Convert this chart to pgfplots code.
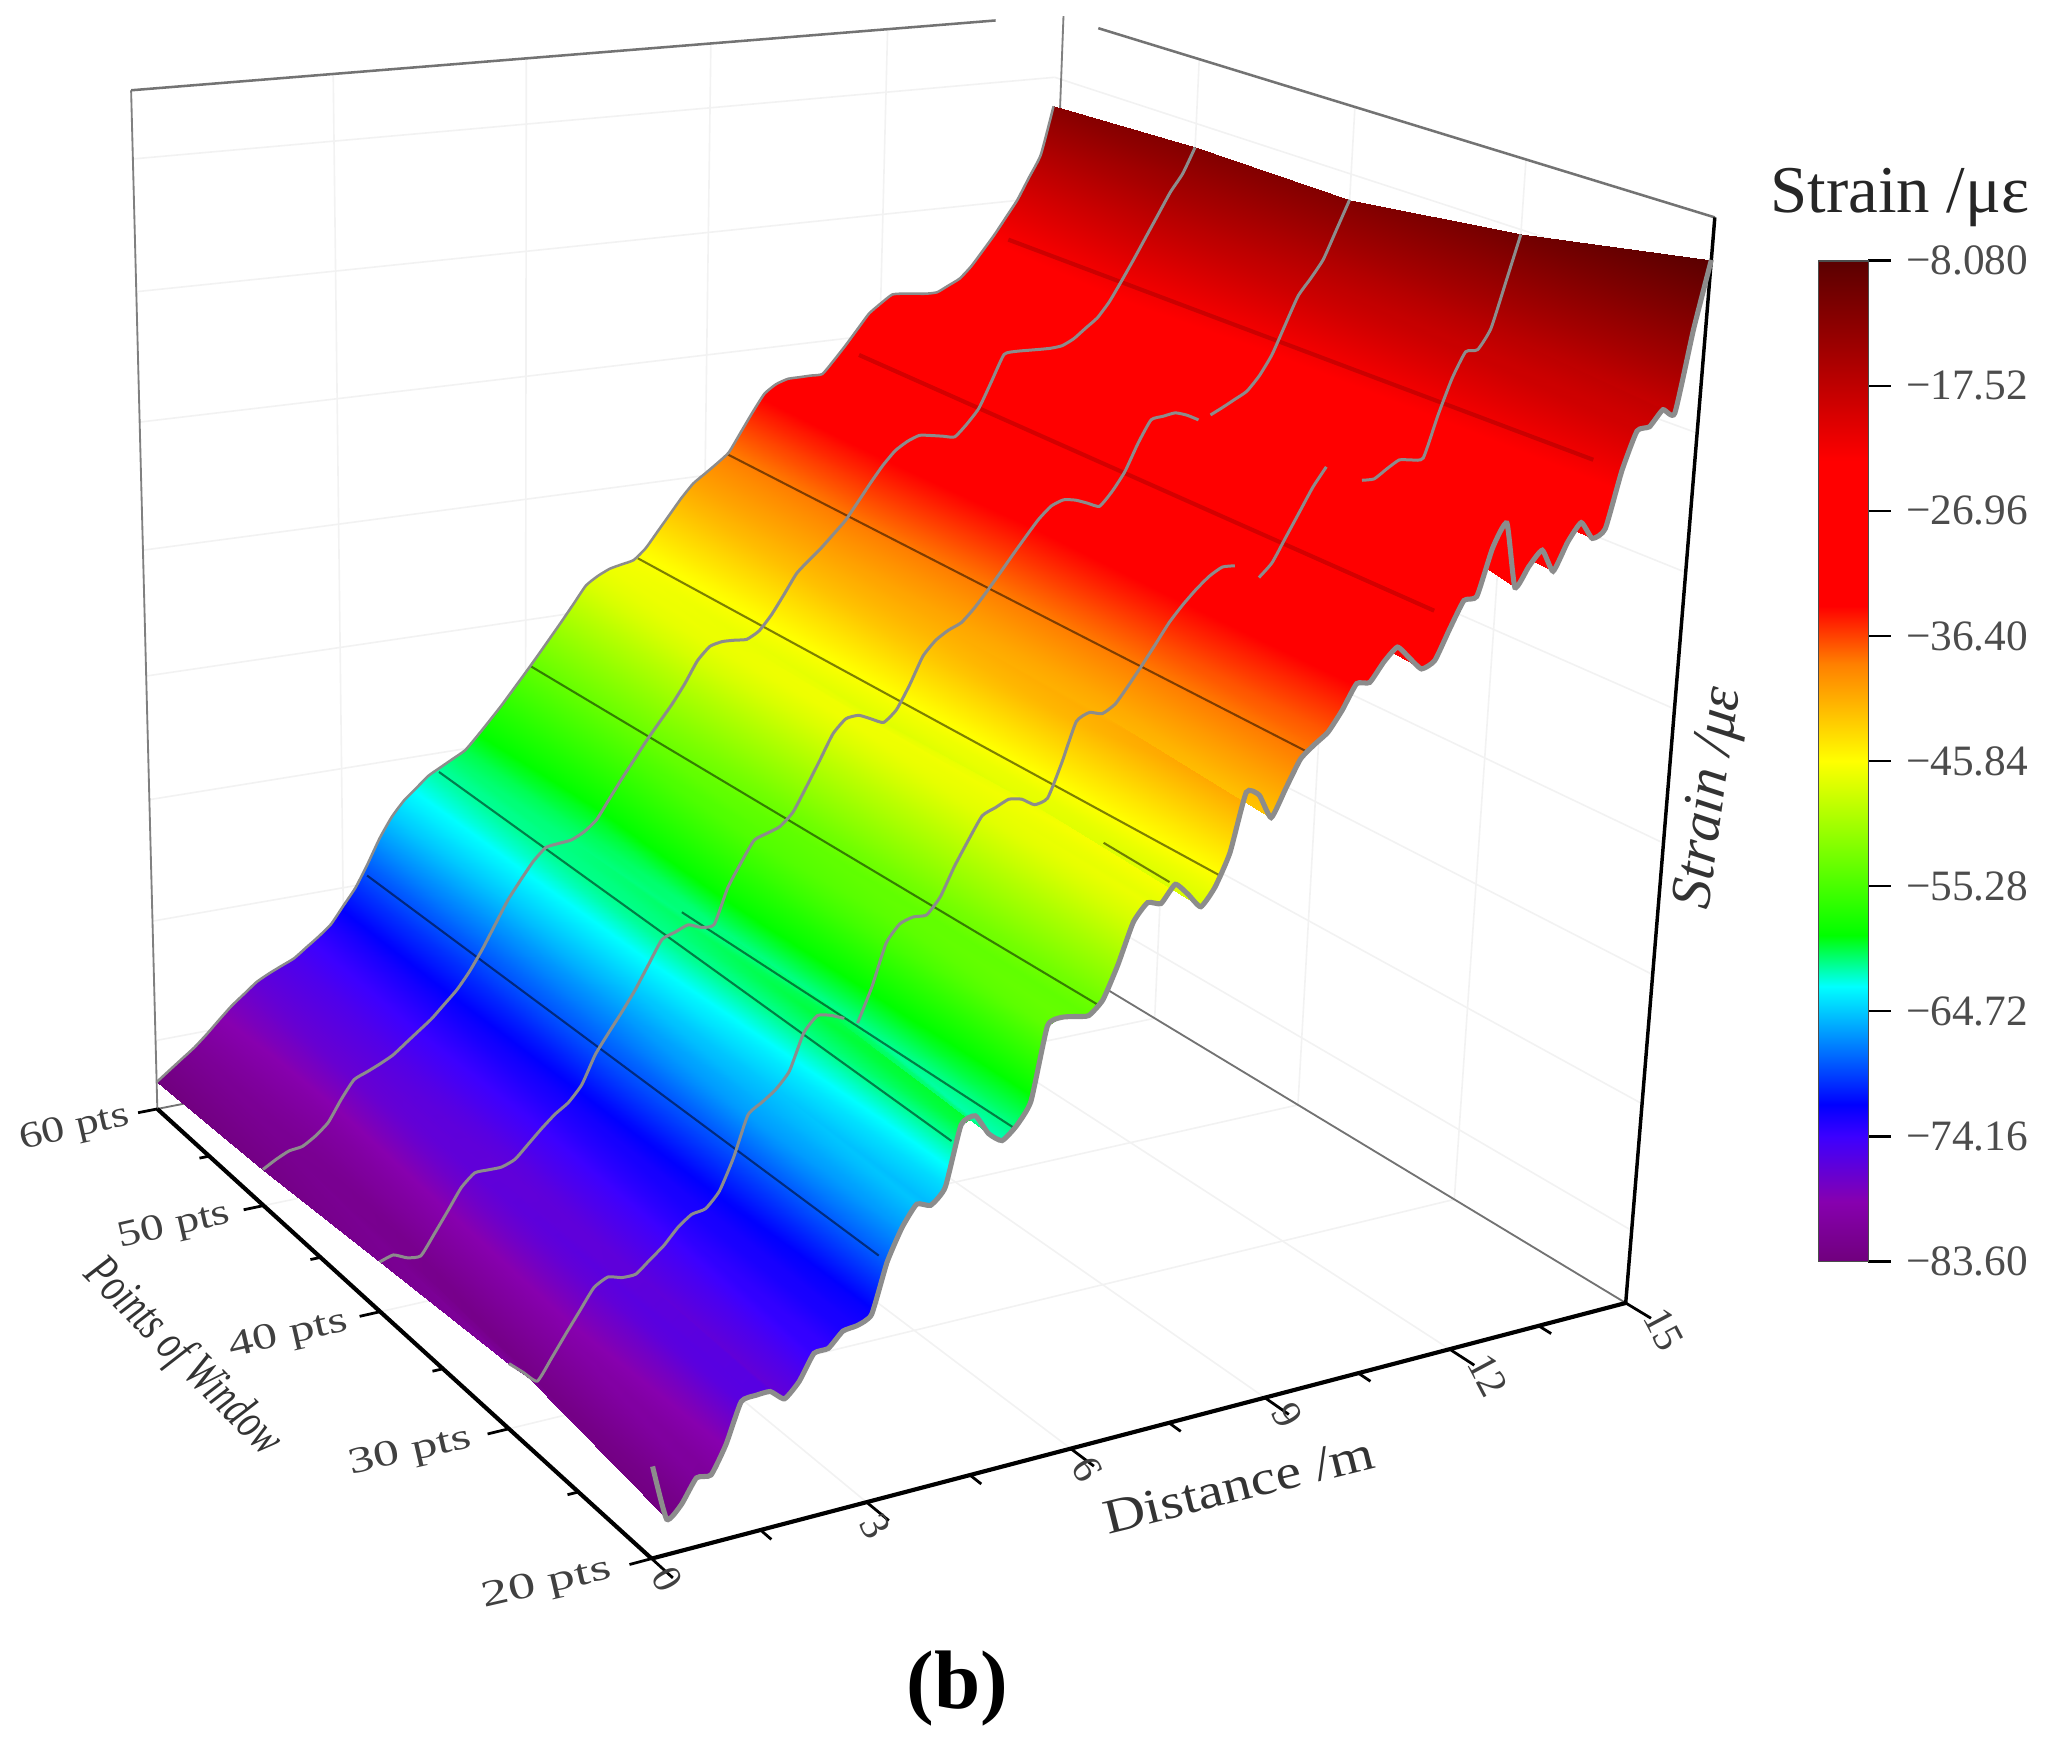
\documentclass[border=0pt]{standalone}
\usepackage{fontspec}
\setmainfont{Liberation Serif}
\usepackage{graphicx}
\usepackage{pgfplots}
\usepackage{pgfplotstable}
\pgfplotsset{compat=1.18}

% strain along the fibre, one column per window size
\pgfplotstableread{
d s20 s30 s40 s50 s60
0.0 -79.17 -80.89 -81.89 -82.85 -83.52
0.2 -83.24 -81.80 -81.58 -82.25 -82.74
0.4 -82.43 -82.72 -82.04 -81.77 -81.97
0.6 -80.79 -81.25 -82.12 -81.63 -81.20
0.8 -80.85 -79.68 -80.63 -81.00 -80.27
1.0 -78.91 -78.17 -79.06 -80.09 -79.25
1.2 -76.10 -76.67 -77.46 -78.44 -78.27
1.4 -75.91 -76.12 -76.53 -77.04 -77.46
1.6 -75.89 -76.40 -76.52 -76.61 -76.65
1.8 -76.67 -76.38 -76.52 -76.17 -76.12
2.0 -75.68 -75.54 -76.13 -75.66 -75.67
2.2 -73.90 -74.70 -75.14 -74.88 -75.23
2.4 -73.80 -73.58 -74.14 -74.10 -74.49
2.6 -72.80 -72.82 -73.24 -73.32 -73.75
2.8 -72.65 -72.63 -72.54 -72.33 -72.90
3.0 -72.10 -71.53 -71.36 -71.33 -71.54
3.2 -68.59 -69.24 -69.23 -70.01 -70.18
3.4 -66.34 -66.28 -67.73 -68.41 -68.35
3.6 -64.90 -65.56 -66.30 -66.60 -66.34
3.8 -65.21 -64.82 -64.77 -64.80 -64.71
4.0 -64.16 -63.64 -63.00 -63.37 -63.51
4.2 -59.93 -61.02 -61.26 -62.03 -62.64
4.4 -59.51 -59.92 -60.88 -61.09 -61.77
4.6 -60.99 -60.11 -60.50 -60.95 -61.22
4.8 -61.71 -60.54 -60.89 -60.85 -60.68
5.0 -60.89 -61.09 -60.86 -60.37 -60.13
5.2 -59.34 -58.63 -58.21 -59.56 -59.09
5.4 -54.19 -55.53 -56.44 -58.07 -57.98
5.6 -53.79 -54.29 -54.86 -56.59 -56.84
5.8 -53.93 -53.97 -54.50 -55.18 -55.61
6.0 -54.07 -54.01 -54.15 -53.78 -54.38
6.2 -53.15 -52.85 -53.20 -52.49 -53.12
6.4 -50.86 -50.79 -51.43 -51.20 -51.83
6.6 -48.05 -49.03 -49.57 -49.73 -50.53
6.8 -46.86 -47.40 -47.67 -48.04 -49.19
7.0 -47.11 -46.97 -46.67 -47.04 -47.84
7.2 -45.94 -46.53 -46.57 -46.81 -47.18
7.4 -46.84 -46.70 -47.01 -46.85 -46.72
7.6 -47.90 -47.28 -47.44 -46.93 -46.50
7.8 -46.69 -46.96 -46.61 -46.40 -46.28
8.0 -44.44 -44.50 -44.85 -45.24 -45.44
8.2 -40.35 -41.64 -42.79 -43.76 -44.17
8.4 -40.73 -41.13 -41.71 -42.22 -42.90
8.6 -42.49 -41.38 -41.09 -41.30 -41.63
8.8 -40.59 -40.82 -40.67 -40.45 -40.54
9.0 -38.70 -39.58 -39.72 -39.47 -39.84
9.2 -37.85 -38.24 -38.55 -38.47 -39.13
9.4 -37.13 -36.83 -37.30 -37.13 -38.34
9.6 -35.75 -35.40 -36.02 -35.76 -36.79
9.8 -34.04 -34.27 -34.78 -34.48 -35.23
10.0 -34.12 -33.29 -33.58 -33.44 -33.80
10.2 -32.84 -32.47 -32.69 -32.83 -33.12
10.4 -31.94 -31.94 -32.34 -32.47 -32.80
10.6 -32.87 -31.99 -32.50 -32.61 -32.78
10.8 -33.79 -32.48 -32.87 -32.79 -32.76
11.0 -33.35 -33.14 -33.24 -32.97 -32.75
11.2 -31.31 -32.19 -32.22 -32.07 -31.71
11.4 -29.41 -30.46 -30.81 -30.90 -30.57
11.6 -29.27 -28.74 -28.75 -28.88 -29.35
11.8 -26.00 -27.01 -27.09 -26.83 -28.14
12.0 -24.40 -25.66 -26.94 -26.70 -27.41
12.2 -29.07 -26.09 -26.80 -26.73 -26.77
12.4 -27.74 -26.57 -27.10 -26.77 -26.80
12.6 -26.72 -27.04 -27.59 -26.79 -26.91
12.8 -28.35 -27.07 -27.33 -26.70 -27.02
13.0 -26.44 -26.46 -26.87 -26.25 -27.01
13.2 -25.18 -25.92 -26.37 -25.51 -26.55
13.4 -26.44 -26.05 -25.86 -24.78 -26.07
13.6 -25.90 -26.03 -24.79 -23.59 -25.15
13.8 -21.93 -23.02 -23.27 -22.02 -23.95
14.0 -19.23 -20.38 -21.09 -20.38 -22.72
14.2 -19.06 -18.53 -18.93 -18.67 -21.35
14.4 -17.98 -18.49 -17.70 -16.96 -19.96
14.6 -18.35 -17.05 -16.34 -15.26 -18.16
14.8 -12.56 -13.74 -14.16 -13.91 -16.35
15.0 -7.84 -10.35 -11.96 -11.90 -12.40
}\wide

% same values in long form for the surface, far window first
\gdef\longrows{}
\foreach \w in {60,50,40,30,20}{
  \foreach \r in {0,...,75}{
    \pgfplotstablegetelem{\r}{d}\of\wide \let\dval\pgfplotsretval
    \pgfplotstablegetelem{\r}{s\w}\of\wide \let\sval\pgfplotsretval
    \xdef\longrows{\longrows \dval\space \w\space \sval\noexpand\\}
  }
}
\edef\tmp{\noexpand\pgfplotstableread[row sep=\noexpand\\]{d w s\noexpand\\ \longrows}\noexpand\surfdata}
\tmp

% perspective of the box: distance 0..15, window 20..60, strain -85.8..-4.9
\tikzset{declare function={
  Dn(\a,\b,\c)=1+.1327*\a/15+.2176*(\b-20)/40-.0839*(\c+85.8)/80.9;
  Un(\a,\b,\c)=(497+907.5*\a/15-350.9*(\b-20)/40-32.74*(\c+85.8)/80.9)/Dn(\a,\b,\c);
  Vn(\a,\b,\c)=(1188-63.2*\a/15-159.1*(\b-20)/40-951.7*(\c+85.8)/80.9)/Dn(\a,\b,\c);
}}
\definecolor{curve}{HTML}{8C8C8C}
\newcommand\fsz[1]{\fontsize{#1}{#1}\selectfont}
\pgfplotsset{
  /pgfplots/table/P/.style={row sep=\\,
    x expr={Un(\thisrow{d},\thisrow{w},\thisrow{s})},
    y expr={Vn(\thisrow{d},\thisrow{w},\thisrow{s})}},
  /pgfplots/table/L/.style={
    x expr={Un(\thisrow{d},#1,\thisrow{s#1})},
    y expr={Vn(\thisrow{d},#1,\thisrow{s#1})}},
  gridl/.style={draw=black!5,line width=0.35pt},
  edgeg/.style={draw=curve,line width=0.65pt,smooth,tension=0.3},
  crossl/.style={draw=black,opacity=0.5,line width=0.45pt},
  crossr/.style={draw=black!60!red,opacity=0.28,line width=0.9pt},
}
\tikzset{
  wl/.style={font=\fsz{10},text=black!75,rotate=13},
  dl/.style={font=\fsz{9},text=black!75,rotate=-62},
}
\newcommand\seg[3][]{\addplot[#1] table[P]{d w s\\#2\\#3\\};}

\begin{document}
\begin{tikzpicture}
\useasboundingbox (0,0) rectangle (15.68cm,13.29cm);
\begin{axis}[
  at={(0,0)},anchor=south west,
  x=0.01cm,y=0.01cm,xmin=0,xmax=1568,ymin=0,ymax=1329,y dir=reverse,
  hide axis,clip=false,no markers,
  colormap={strain}{rgb255(0pt)=(112,0,125);rgb255(60pt)=(135,0,175);rgb255(125pt)=(60,0,255);
    rgb255(157pt)=(0,0,255);rgb255(275pt)=(0,255,255);rgb255(326pt)=(0,255,0);rgb255(500pt)=(255,255,0);
    rgb255(597pt)=(255,128,0);rgb255(655pt)=(255,0,0);rgb255(800pt)=(255,0,0);rgb255(905pt)=(165,0,0);rgb255(1000pt)=(90,0,0)},
  point meta min=-83.6,point meta max=-8.08,
  colorbar,
  colorbar style={
    at={(0.8846,0.851)},anchor=north west,
    width=0.38cm,height=7.63cm,
    ytick={-83.6,-74.16,-64.72,-55.28,-45.84,-36.4,-26.96,-17.52,-8.08},
    yticklabels={−83.60,−74.16,−64.72,−55.28,−45.84,−36.40,−26.96,−17.52,−8.080},
    ytick pos=right,yticklabel pos=right,tick align=outside,
    major tick length=0.17cm,
    tick style={black,line width=0.5pt},
    axis line style={black!70,line width=0.4pt},
    yticklabel style={font=\fsz{9.4},text=black!70,inner sep=0pt,xshift=0.11cm},
  },
]
% walls and floor
\pgfplotsinvokeforeach{3,6,9,12}{
  \seg[gridl]{#1 20 -85.8}{#1 60 -85.8}
  \seg[gridl]{#1 60 -85.8}{#1 60 -4.9}
}
\pgfplotsinvokeforeach{30,40,50}{
  \seg[gridl]{0 #1 -85.8}{15 #1 -85.8}
  \seg[gridl]{15 #1 -85.8}{15 #1 -4.9}
}
\pgfplotsinvokeforeach{-80,-70,-60,-50,-40,-30,-20,-10}{
  \seg[gridl]{0 60 #1}{15 60 #1}
  \seg[gridl]{15 60 #1}{15 20 #1}
}
\seg[draw=black!55,line width=0.4pt]{15 20 -85.8}{15 60 -85.8}
\seg[draw=black!55,line width=0.4pt]{0 60 -85.8}{15 60 -85.8}
\seg[draw=black!50,line width=0.4pt]{0 60 -85.8}{0 60 -4.9}
\seg[draw=black!55,line width=0.55pt]{0 60 -4.9}{13.9 60 -4.9}
\seg[draw=black!55,line width=0.55pt]{15 57 -4.9}{15 20 -4.9}
\seg[draw=black!50,line width=0.4pt]{15.12 60 -85.8}{15.12 60 -5}
\seg[draw=black,line width=0.75pt]{15 20 -85.8}{15 20 -4.9}
% surface
\addplot[surf,shader=interp,mesh/rows=5,point meta=\thisrow{s}] table[P]{\surfdata};
% constant-distance lines on the surface
\seg[crossl]{3.39 60 -69.32}{3.08 20 -67.97}
\seg[crossl]{4.57 60 -61.6}{4.07 20 -60.94}
\seg[crossl]{4.5 40 -59.43}{4.98 20 -61.04}
\seg[crossl]{6.09 60 -53.95}{6.11 20 -53.36}
\seg[crossl]{7.87 60 -46.18}{7.85 20 -45.88}
\seg[crossl]{7.93 27 -48.39}{7.38 21 -46.64}
\seg[crossl]{9.38 60 -38.48}{9.06 20 -38.15}
\seg[crossr]{11.64 60 -31.52}{10.94 20 -29.79}
\seg[crossr]{14.26 60 -23.23}{13.32 20 -20.83}
% window curves
\addplot[edgeg,line width=0.55pt] table[L=60]{\wide};
\addplot[edgeg] table[L=50]{\wide};
\addplot[edgeg,skip coords between index={64}{76}] table[L=40]{\wide};
\addplot[edgeg,skip coords between index={0}{64}] table[L=40]{\wide};
\addplot[edgeg,skip coords between index={25}{76}] table[L=30]{\wide};
\addplot[edgeg,skip coords between index={0}{25},skip coords between index={54}{76}] table[L=30]{\wide};
\addplot[edgeg,skip coords between index={0}{55},skip coords between index={61}{76}] table[L=30]{\wide};
\addplot[edgeg,skip coords between index={0}{63}] table[L=30]{\wide};
\addplot[edgeg,line width=1.1pt] table[L=20]{\wide};
% front axes and ticks
\seg[draw=black,line width=0.9pt]{0 20 -85.8}{15 20 -85.8}
\seg[draw=black,line width=0.9pt]{0 20 -85.8}{0 60 -85.8}
\pgfplotsinvokeforeach{0,3,6,9,12,15}{\seg[draw=black,line width=0.6pt]{#1 20 -85.8}{#1 18.6 -85.8}}
\pgfplotsinvokeforeach{1.5,4.5,7.5,10.5,13.5}{\seg[draw=black,line width=0.6pt]{#1 20 -85.8}{#1 19.3 -85.8}}
\pgfplotsinvokeforeach{20,30,40,50,60}{\seg[draw=black,line width=0.6pt]{0 #1 -85.8}{-0.3 #1 -85.8}}
\pgfplotsinvokeforeach{25,35,45,55}{\seg[draw=black,line width=0.6pt]{0 #1 -85.8}{-0.15 #1 -85.8}}
% text
\node[wl] at (axis cs:57,860) {\scalebox{1}[0.8]{60 pts}};
\node[wl] at (axis cs:133,935) {\scalebox{1.02}[0.8]{50 pts}};
\node[wl] at (axis cs:220,1018) {\scalebox{1.08}[0.8]{40 pts}};
\node[wl] at (axis cs:313,1107) {\scalebox{1.12}[0.8]{30 pts}};
\node[wl] at (axis cs:417,1208) {\scalebox{1.18}[0.8]{20 pts}};
\node[dl] at (axis cs:509,1204) {0};
\node[dl] at (axis cs:668,1163) {3};
\node[dl] at (axis cs:829,1120) {6};
\node[dl] at (axis cs:982,1079) {9};
\node[dl] at (axis cs:1135,1048) {12};
\node[dl] at (axis cs:1269,1013) {15};
\node[font=\fsz{12.5},text=black!80,rotate=14] at (axis cs:945,1132) {\scalebox{1}[0.85]{Distance /m}};
\node[font=\itshape\fsz{11},text=black!80,rotate=-45] at (axis cs:139,1035) {\scalebox{0.72}[1]{Points of Window}};
\node[font=\itshape\fsz{12.5},text=black!80,rotate=82] at (axis cs:1305,608) {Strain /με};
\node[font=\fsz{14.5},text=black!85] at (axis cs:1449,150) {Strain /με};
\node[font=\bfseries\fsz{18},text=black] at (axis cs:730,1287) {(b)};
\end{axis}
\end{tikzpicture}
\end{document}
